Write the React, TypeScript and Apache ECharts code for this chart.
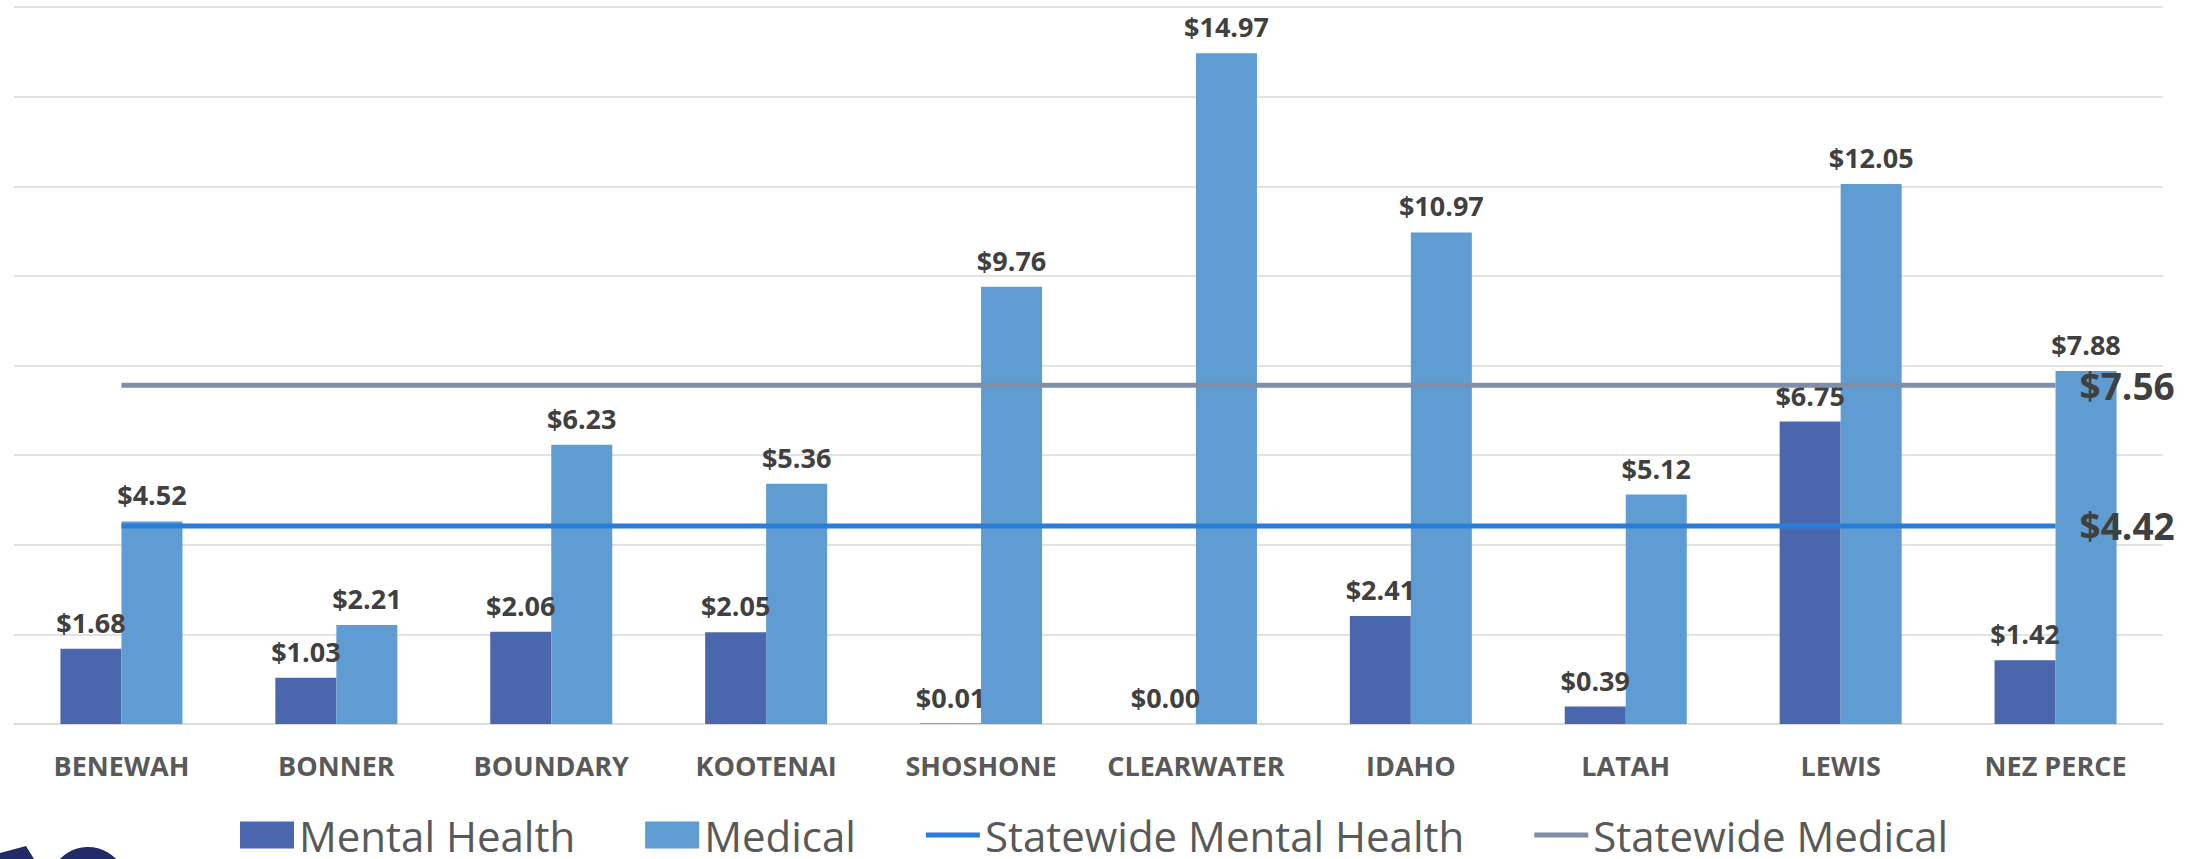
import React, { useEffect, useRef } from "react";
import * as echarts from "echarts";

const categories = ["BENEWAH", "BONNER", "BOUNDARY", "KOOTENAI", "SHOSHONE", "CLEARWATER", "IDAHO", "LATAH", "LEWIS", "NEZ PERCE"];
const mentalHealth = [1.68, 1.03, 2.06, 2.05, 0.01, 0.0, 2.41, 0.39, 6.75, 1.42];
const medical = [4.52, 2.21, 6.23, 5.36, 9.76, 14.97, 10.97, 5.12, 12.05, 7.88];
const statewideMentalHealth = [4.42, 4.42, 4.42, 4.42, 4.42, 4.42, 4.42, 4.42, 4.42, 4.42];
const statewideMedical = [7.56, 7.56, 7.56, 7.56, 7.56, 7.56, 7.56, 7.56, 7.56, 7.56];

const FONT = "Open Sans";
const money = (v: number) => "$" + v.toFixed(2);

// thin line icon inside a 54x27 box (tiny corner specks keep the box size)
const LINE_ICON =
  "path://M0,0 L0.01,0 L0,0.01 Z M54,27 L53.99,27 L54,26.99 Z M0,11 L54,11 L54,16 L0,16 Z";

const endLabel = {
  show: true,
  distance: 24,
  formatter: (p: any) => money(Array.isArray(p.value) ? p.value[1] : p.value),
  fontFamily: FONT,
  fontWeight: "bold",
  fontSize: 37,
  color: "#404040",
};

export default function App() {
  const ref = useRef<HTMLDivElement>(null);
  useEffect(() => {
    if (!ref.current) return;
    const chart = echarts.init(ref.current, undefined, { renderer: "svg" });
    const barLabel = {
      show: true,
      position: "top",
      distance: 13,
      formatter: (p: any) => money(p.value),
      fontFamily: FONT,
      fontWeight: "bold",
      fontSize: 27,
      color: "#404040",
    };
    chart.setOption({
      animation: false,
      backgroundColor: "#ffffff",
      textStyle: { fontFamily: FONT },
      grid: { left: 14, right: 37, top: 7, bottom: 135, containLabel: false },
      legend: {
        top: 809,
        left: 235,
        itemWidth: 54,
        itemHeight: 27,
        itemGap: 70,
        textStyle: { fontFamily: FONT, fontSize: 42, color: "#595959" },
        data: [
          { name: "Mental Health", icon: "rect" },
          { name: "Medical", icon: "rect" },
          { name: "Statewide Mental Health", icon: LINE_ICON, itemStyle: { color: "#2A7DD6" }, lineStyle: { width: 0 } },
          { name: "Statewide Medical", icon: LINE_ICON, itemStyle: { color: "#7F8FAA" }, lineStyle: { width: 0 } },
        ],
      },
      xAxis: {
        type: "category",
        data: categories,
        axisLine: { show: true, lineStyle: { color: "#d9d9d9", width: 1.5 } },
        axisTick: { show: false },
        axisLabel: {
          margin: 28,
          fontFamily: FONT,
          fontWeight: "bold",
          fontSize: 27,
          color: "#595959",
          interval: 0,
        },
      },
      yAxis: {
        type: "value",
        min: 0,
        max: 16,
        interval: 2,
        axisLabel: { show: false },
        axisLine: { show: false },
        axisTick: { show: false },
        splitLine: { lineStyle: { color: "#d9d9d9", width: 1.5 } },
      },
      series: [
        {
          name: "Mental Health",
          type: "bar",
          data: mentalHealth,
          barWidth: 61,
          barGap: "0%",
          itemStyle: { color: "#4A66AC" },
          label: barLabel,
          z: 2,
        },
        {
          name: "Medical",
          type: "bar",
          data: medical,
          barWidth: 61,
          barGap: "0%",
          itemStyle: { color: "#5F9CD2" },
          label: barLabel,
          z: 2,
        },
        {
          name: "Statewide Mental Health",
          type: "line",
          data: statewideMentalHealth,
          symbol: "none",
          showSymbol: false,
          lineStyle: { color: "#2A7DD6", width: 5 },
          itemStyle: { color: "#2A7DD6" },
          endLabel: endLabel,
          z: 3,
        },
        {
          name: "Statewide Medical",
          type: "line",
          data: statewideMedical,
          symbol: "none",
          showSymbol: false,
          lineStyle: { color: "#7F8FAA", width: 5 },
          itemStyle: { color: "#7F8FAA" },
          endLabel: endLabel,
          z: 3,
        },
      ],
      graphic: [
        {
          type: "polygon",
          shape: { points: [[0, 853], [26, 846], [34, 859], [0, 859]] },
          style: { fill: "#222A6A" },
        },
        {
          type: "circle",
          shape: { cx: 88, cy: 886, r: 33 },
          style: { fill: "none", stroke: "#222A6A", lineWidth: 12 },
        },
      ],
    });
    return () => chart.dispose();
  }, []);
  return (
    <div
      ref={ref}
      style={{ position: "fixed", left: 0, top: 0, width: 2200, height: 859, background: "#fff" }}
    />
  );
}
